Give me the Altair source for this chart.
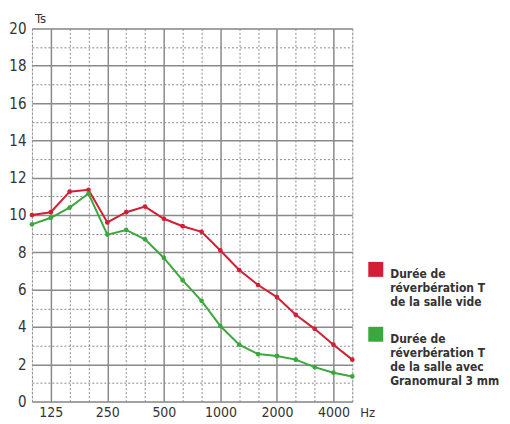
import altair as alt
import pandas as pd

freqs = [100, 125, 160, 200, 250, 315, 400, 500, 630, 800, 1000, 1250, 1600, 2000, 2500, 3150, 4000, 5000]
vide = [10.0, 10.15, 11.25, 11.35, 9.6, 10.15, 10.45, 9.8, 9.4, 9.1, 8.1, 7.05, 6.25, 5.6, 4.65, 3.9, 3.05, 2.25]
avec = [9.5, 9.85, 10.4, 11.15, 8.95, 9.2, 8.7, 7.7, 6.5, 5.4, 4.05, 3.05, 2.55, 2.45, 2.25, 1.85, 1.55, 1.35]
series = ["Durée de réverbération T de la salle vide",
          "Durée de réverbération T de la salle avec Granomural 3 mm"]
colors = ["#d21f35", "#3aa83c"]
octave_labels = [125, 250, 500, 1000, 2000, 4000]

rows = []
for f, a, b in zip(freqs, vide, avec):
    rows.append({"f": f, "T": a, "s": series[0]})
    rows.append({"f": f, "T": b, "s": series[1]})
df = pd.DataFrame(rows)

FONT = "'DejaVu Sans Condensed', 'Liberation Sans Narrow', 'Roboto', sans-serif"

label_expr = ("datum.label == 'Durée de réverbération T de la salle vide' ? "
              "['Durée de', 'réverbération T', 'de la salle vide'] : "
              "['Durée de', 'réverbération T', 'de la salle avec', 'Granomural 3 mm']")

oct_test = "indexof(" + str(octave_labels) + ", datum.value) >= 0"

x = alt.X("f:O", sort=freqs,
          scale=alt.Scale(type="point", padding=0, domain=freqs),
          axis=alt.Axis(title=None, labelExpr=oct_test + " ? datum.label : ''",
                        labelAngle=0, labelFont=FONT, labelFontSize=14, labelColor="#333",
                        labelPadding=4, ticks=False, domain=False,
                        grid=True, gridColor="#8a8a8a",
                        gridDash={"condition": {"test": oct_test, "value": []}, "value": [2, 2]},
                        gridWidth={"condition": {"test": oct_test, "value": 1.5}, "value": 1},
                        ))
y = alt.Y("T:Q", scale=alt.Scale(domain=[0, 20], nice=False),
          axis=alt.Axis(title=None, values=list(range(0, 21)),
                        labelExpr="datum.value % 2 == 0 ? datum.label : ''",
                        labelFont=FONT, labelFontSize=15, labelColor="#333", labelPadding=6,
                        ticks=False, domain=False, grid=True, gridColor="#8a8a8a",
                        gridDash={"condition": {"test": "datum.value % 2 == 0", "value": []}, "value": [2, 2]},
                        gridWidth={"condition": {"test": "datum.value % 2 == 0", "value": 1.5}, "value": 1},
                        ))
color = alt.Color("s:N", scale=alt.Scale(domain=series, range=colors),
                  legend=alt.Legend(title=None, orient="none", legendX=337, legendY=234,
                                    symbolType="square", symbolSize=225, symbolStrokeWidth=0,
                                    symbolOpacity=1, labelExpr=label_expr,
                                    labelFont=FONT, labelFontSize=12, labelFontWeight="bold",
                                    labelColor="#333", labelBaseline="top", labelOffset=7,
                                    rowPadding=18, labelLimit=200))

base = alt.Chart(df)
lines = base.mark_line(strokeWidth=2).encode(x=x, y=y, color=color)
pts = base.mark_circle(size=22, opacity=1).encode(x=x, y=y, color=alt.Color("s:N", scale=alt.Scale(domain=series, range=colors), legend=None))

ts = alt.Chart(pd.DataFrame({"t": ["Ts"]})).mark_text(align="left", baseline="bottom", font=FONT, fontSize=13, color="#333", dx=3, dy=-2).encode(
    x=alt.value(0), y=alt.value(0), text="t:N")
hz = alt.Chart(pd.DataFrame({"t": ["Hz"]})).mark_text(align="left", baseline="top", font=FONT, fontSize=13, color="#333", dx=8, dy=5).encode(
    x=alt.value(321), y=alt.value(374), text="t:N")

chart = alt.layer(lines, pts, ts, hz).properties(
    width=321, height=374,
    autosize=alt.AutoSizeParams(type="none"),
    padding={"left": 24, "top": 20, "right": 150, "bottom": 22},
).configure_view(stroke="#8a8a8a", strokeWidth=1.5).configure(background="white")

chart.save("out.html", embed_options={"renderer": "svg", "actions": False})
